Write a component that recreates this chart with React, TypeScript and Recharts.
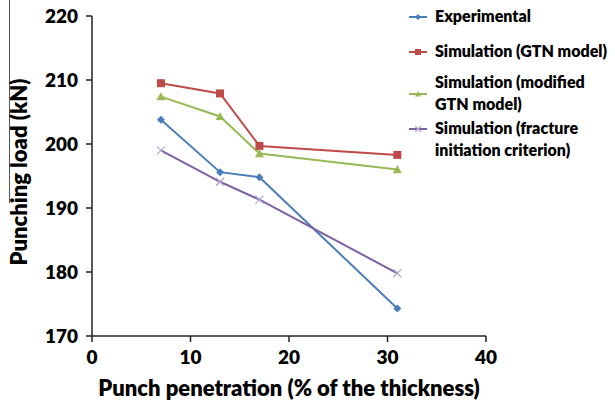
import { LineChart, Line, XAxis, YAxis } from "recharts";

const penetration = [7, 13, 17, 31];
const experimental = [203.8, 195.6, 194.8, 174.3];
const gtnModel = [209.5, 207.9, 199.7, 198.3];
const modifiedGtn = [207.4, 204.3, 198.5, 196.0];
const fractureCriterion = [199.0, 194.1, 191.3, 179.8];

const xTicks = [0, 10, 20, 30, 40];
const yTicks = [170, 180, 190, 200, 210, 220];

const data = penetration.map((x, i) => ({
  x,
  experimental: experimental[i],
  gtn: gtnModel[i],
  modified: modifiedGtn[i],
  fracture: fractureCriterion[i],
}));

const FONT = "Lato, 'Open Sans', sans-serif";
const BLUE = "#4a7ebb";
const RED = "#be4b48";
const GREEN = "#98b954";
const PURPLE = "#7d60a0";

const Diamond = ({ cx, cy, s = 4 }: any) => (
  <path d={`M${cx},${cy - s}L${cx + s},${cy}L${cx},${cy + s}L${cx - s},${cy}Z`} fill={BLUE} />
);
const Square = ({ cx, cy, s = 4 }: any) => (
  <rect x={cx - s} y={cy - s} width={s * 2} height={s * 2} fill={RED} />
);
const Triangle = ({ cx, cy, s = 4.5 }: any) => (
  <path d={`M${cx},${cy - s}L${cx + s},${cy + s * 0.8}L${cx - s},${cy + s * 0.8}Z`} fill={GREEN} />
);
const Cross = ({ cx, cy, s = 4 }: any) => (
  <g stroke="#b3a6cf" strokeWidth={1.2}>
    <line x1={cx - s} y1={cy - s} x2={cx + s} y2={cy + s} />
    <line x1={cx - s} y1={cy + s} x2={cx + s} y2={cy - s} />
  </g>
);

const dot = (Shape: any) => (props: any) => <Shape key={props.index} cx={props.cx} cy={props.cy} />;

const legendItems = [
  { lines: ["Experimental"], color: BLUE, Shape: Diamond, top: 5, markerAt: 0 },
  { lines: ["Simulation (GTN model)"], color: RED, Shape: Square, top: 40, markerAt: 0 },
  { lines: ["Simulation (modified", "GTN model)"], color: GREEN, Shape: Triangle, top: 71, markerAt: 0.5 },
  { lines: ["Simulation (fracture", "initiation criterion)"], color: PURPLE, Shape: Cross, top: 117, markerAt: 0 },
];

function ChartLegend() {
  return (
    <div style={{ position: "absolute", left: 408, top: 0 }}>
      {legendItems.map((it) => (
        <div key={it.lines[0]} style={{ position: "absolute", top: it.top, left: 0, width: 210 }}>
          <svg
            width={20}
            height={12}
            style={{ position: "absolute", left: 0, top: 6 + it.markerAt * 21 }}
          >
            <line x1={1} y1={6} x2={19} y2={6} stroke={it.color} strokeWidth={2} />
            <it.Shape cx={10} cy={6} s={3} />
          </svg>
          <div
            style={{
              marginLeft: 27,
              fontFamily: FONT,
              fontWeight: 800,
              fontSize: 16,
              lineHeight: "22px",
              color: "#000",
              whiteSpace: "nowrap",
            }}
          >
            {it.lines.map((l) => (
              <div key={l}>{l}</div>
            ))}
          </div>
        </div>
      ))}
    </div>
  );
}

const tickStyle = { fontFamily: FONT, fontWeight: 800, fontSize: 19, fill: "#000" };
const titleStyle = { fontFamily: FONT, fontWeight: 800, fontSize: 22, fill: "#000" };

export default function App() {
  return (
    <div
      style={{
        position: "absolute",
        left: 0,
        top: 0,
        width: 615,
        height: 407,
        background: "#fff",
        overflow: "hidden",
      }}
    >
      <div style={{ position: "absolute", left: 9, top: 0, width: 1, height: 203, background: "#555" }} />
      <LineChart
        width={615}
        height={407}
        data={data}
        margin={{ top: 16, right: 129, left: 0, bottom: 0 }}
      >
        <XAxis
          dataKey="x"
          type="number"
          domain={[0, 40]}
          ticks={xTicks}
          tick={tickStyle}
          tickSize={6}
          tickMargin={9}
          height={71}
          stroke="#222"
          strokeWidth={1.5}
          label={{
            value: "Punch penetration (% of the thickness)",
            position: "insideBottom",
            offset: 11,
            style: titleStyle,
          }}
        />
        <YAxis
          type="number"
          domain={[170, 220]}
          ticks={yTicks}
          tick={tickStyle}
          tickSize={6}
          tickMargin={8}
          width={92}
          stroke="#222"
          strokeWidth={1.5}
          label={{
            content: ({ viewBox }: any) => {
              const cx = viewBox.x + 18;
              const cy = viewBox.y + viewBox.height / 2 - 4;
              return (
                <text
                  x={cx}
                  y={cy}
                  transform={`rotate(-90 ${cx} ${cy})`}
                  textAnchor="middle"
                  dominantBaseline="central"
                  style={titleStyle}
                >
                  Punching load (kN)
                </text>
              );
            },
          }}
        />
        <Line dataKey="experimental" stroke={BLUE} strokeWidth={2} dot={dot(Diamond)} isAnimationActive={false} />
        <Line dataKey="gtn" stroke={RED} strokeWidth={2} dot={dot(Square)} isAnimationActive={false} />
        <Line dataKey="modified" stroke={GREEN} strokeWidth={2} dot={dot(Triangle)} isAnimationActive={false} />
        <Line dataKey="fracture" stroke={PURPLE} strokeWidth={2} dot={dot(Cross)} isAnimationActive={false} />
      </LineChart>
      <ChartLegend />
    </div>
  );
}
